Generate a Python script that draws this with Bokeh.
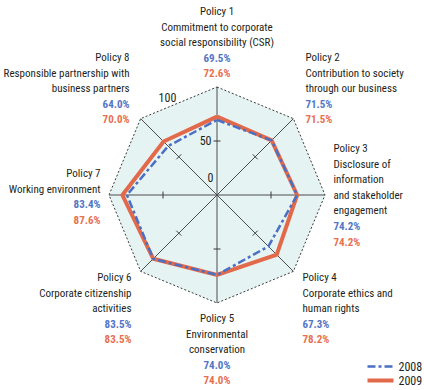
import numpy as np
from bokeh.plotting import figure
from bokeh.models import Range1d
from bokeh.core.properties import value
from bokeh.embed import file_html
from bokeh.resources import INLINE

# ---------------- data ----------------
policies = ["Policy 1", "Policy 2", "Policy 3", "Policy 4",
            "Policy 5", "Policy 6", "Policy 7", "Policy 8"]
descriptions = [
    ["Commitment to corporate", "social responsibility (CSR)"],
    ["Contribution to society", "through our business"],
    ["Disclosure of", "information", "and stakeholder", "engagement"],
    ["Corporate ethics and", "human rights"],
    ["Environmental", "conservation"],
    ["Corporate citizenship", "activities"],
    ["Working environment"],
    ["Responsible partnership with", "business partners"],
]
values_2008 = [69.5, 71.5, 74.2, 67.3, 74.0, 83.5, 83.4, 64.0]
values_2009 = [72.6, 71.5, 74.2, 78.2, 74.0, 83.5, 87.6, 70.0]
series_names = ["2008", "2009"]
radial_ticks = [0, 50, 100]
r_max = 100

# ---------------- layout / style ----------------
W, H = 424, 390
S = 1.08            # pixels per value unit
CX, CY = 216.5, 194.5
FONT = "Roboto Condensed"
FS = "11px"
TXT = "#231f20"
BLUE = "#4a6fc4"
ORANGE = "#e2694a"
BLUE_T = "#5276c6"
ORANGE_T = "#e8704e"
LINE_H = 15.6


def px(xi, yi):
    return (xi - CX) / S, (CY - yi) / S


# label blocks: anchor x (image px), first line y (image px), alignment
label_layout = [
    (216.5, 11, "center"),
    (305, 57, "left"),
    (333, 148, "left"),
    (302, 277, "left"),
    (216.5, 318, "center"),
    (131, 277, "right"),
    (100, 173, "right"),
    (129, 57, "right"),
]

x0, y1 = px(0, 0)
x1, y0 = px(W, H)

p = figure(width=W, height=H, x_range=Range1d(x0, x1), y_range=Range1d(y0, y1),
           output_backend="svg", toolbar_location=None, min_border=0,
           x_axis_type=None, y_axis_type=None)
p.grid.visible = False
p.outline_line_color = None
p.background_fill_color = "white"
p.border_fill_color = "white"

n = len(policies)
theta = np.pi / 2 - np.arange(n) * 2 * np.pi / n
cos_t, sin_t = np.cos(theta), np.sin(theta)

# background octagon
ox = list(r_max * cos_t) + [r_max * cos_t[0]]
oy = list(r_max * sin_t) + [r_max * sin_t[0]]
p.patch(ox, oy, fill_color="#e5f3f2", line_color=None)
p.line(ox, oy, line_color="#3a3a3a", line_width=1, line_dash="2 2")

# spokes
p.multi_line([[0, r_max * c] for c in cos_t], [[0, r_max * s] for s in sin_t],
             line_color="#4d4d4d", line_width=1)

# tick marks at 50 on each spoke
tk = radial_ticks[1]
half = 3.5 / S
p.multi_line([[tk * c + half * s, tk * c - half * s] for c, s in zip(cos_t, sin_t)],
             [[tk * s - half * c, tk * s + half * c] for c, s in zip(cos_t, sin_t)],
             line_color="#3a3a3a", line_width=1)


def closed(vals):
    v = np.array(vals + [vals[0]])
    t = np.append(theta, theta[0])
    return v * np.cos(t), v * np.sin(t)


xs9, ys9 = closed(values_2009)
xs8, ys8 = closed(values_2008)
p.line(xs9, ys9, line_color=ORANGE, line_width=4, line_join="miter")
p.line(xs8, ys8, line_color=BLUE, line_width=2.5, line_dash="8 3 3 3", line_join="miter")

# radial tick labels
tick_pos = [(210, 177, "center"), (211, 140, "right"), (167, 97, "center")]
for t, (xi, yi, al) in zip(radial_ticks, tick_pos):
    x, y = px(xi, yi)
    p.text([x], [y], text=[str(t)], text_font=value(FONT), text_font_size="12px",
           text_color=TXT, text_align=al, text_baseline="middle")

# category labels
for i in range(n):
    xi, yi, al = label_layout[i]
    lines = [policies[i]] + descriptions[i]
    for j, ln in enumerate(lines):
        x, y = px(xi, yi + j * LINE_H)
        p.text([x], [y], text=[ln], text_font=value(FONT), text_font_size=FS,
               text_color=TXT, text_align=al, text_baseline="middle")
    k = len(lines)
    for j, (vals, col) in enumerate([(values_2008, BLUE_T), (values_2009, ORANGE_T)]):
        x, y = px(xi, yi + (k + j) * LINE_H)
        p.text([x], [y], text=[f"{vals[i]:.1f}%"], text_font=value(FONT),
               text_font_size=FS, text_font_style="bold",
               text_color=col, text_align=al, text_baseline="middle")

# legend (manual)
leg = [(366, BLUE, 2.5, "8 3 3 3"), (380, ORANGE, 4, "solid")]
for name, (yi, col, lw, dash) in zip(series_names, leg):
    xa, ya = px(367, yi)
    xb, _ = px(393, yi)
    p.line([xa, xb], [ya, ya], line_color=col, line_width=lw, line_dash=dash)
    xt, _ = px(398, yi)
    p.text([xt], [ya], text=[name], text_font=value(FONT), text_font_size="12px",
           text_color=TXT, text_align="left", text_baseline="middle")

open("out.html", "w").write(file_html(p, INLINE))
